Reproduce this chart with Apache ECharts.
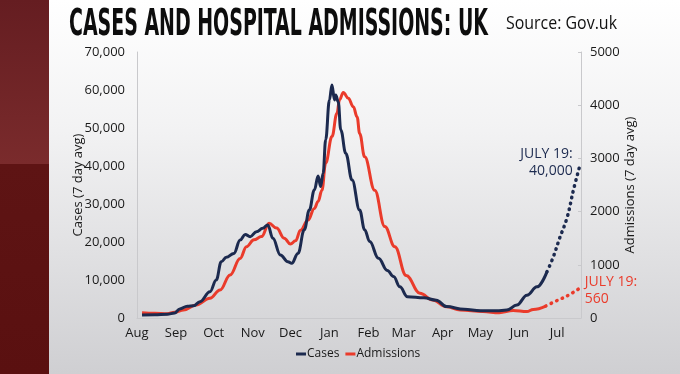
<!DOCTYPE html>
<html>
<head>
<meta charset="utf-8">
<script src="https://cdn.jsdelivr.net/npm/echarts@6/dist/echarts.min.js"></script>
<style>
html,body{margin:0;padding:0;background:#fff;}
#chart{width:680px;height:374px;}
</style>
</head>
<body>
<div id="chart"></div>
<script>
// ---- data ----
var titleText = 'CASES AND HOSPITAL ADMISSIONS: UK';
var sourceText = 'Source: Gov.uk';
var seriesNames = ['Cases', 'Admissions'];

var monthStarts = ['2020-08-01','2020-09-01','2020-10-01','2020-11-01','2020-12-01','2021-01-01',
                   '2021-02-01','2021-03-01','2021-04-01','2021-05-01','2021-06-01','2021-07-01'];
var monthLabels = ['Aug','Sep','Oct','Nov','Dec','Jan','Feb','Mar','Apr','May','Jun','Jul'];
var xStart = '2020-08-01';
var xEnd = '2021-07-20';

var casesTicks = ['0','10,000','20,000','30,000','40,000','50,000','60,000','70,000'];
var admissionsTicks = ['0','1000','2000','3000','4000','5000'];

var casesDates = ['2020-08-05','2020-08-15','2020-08-25','2020-08-31','2020-09-04','2020-09-10','2020-09-15',
  '2020-09-20','2020-09-28','2020-10-03','2020-10-07','2020-10-11','2020-10-17','2020-10-22','2020-10-26',
  '2020-10-30','2020-11-04','2020-11-09','2020-11-13','2020-11-17','2020-11-23','2020-11-29','2020-12-02',
  '2020-12-07','2020-12-12','2020-12-16','2020-12-20','2020-12-23','2020-12-25','2020-12-27','2020-12-29',
  '2021-01-01','2021-01-03','2021-01-05','2021-01-06','2021-01-08','2021-01-10','2021-01-14','2021-01-19',
  '2021-01-25','2021-01-29','2021-02-02','2021-02-09','2021-02-16','2021-02-21','2021-02-26','2021-03-04',
  '2021-03-17','2021-03-27','2021-04-04','2021-04-18','2021-05-01','2021-05-14','2021-05-22','2021-05-30',
  '2021-06-07','2021-06-15','2021-06-23'];
var casesValues = [800,850,1000,1300,2400,3100,3200,
  4300,6900,10000,14800,16000,17000,20500,22000,
  21400,22700,23600,24500,21000,16600,14800,14400,
  17000,23200,28400,33700,37400,34600,38100,46900,
  57400,61300,57400,58700,56900,49500,43300,36300,
  28400,23200,20100,15700,12500,10900,8200,5600,
  5300,4700,3000,2300,1900,1900,2100,3400,
  6000,8200,12200];

var casesProjDates = ['2021-06-23','2021-06-28','2021-07-03','2021-07-09','2021-07-14','2021-07-19'];
var casesProjValues = [12200,16100,21000,26500,33700,40000];

var admDates = ['2020-08-05','2020-08-15','2020-08-25','2020-08-31','2020-09-07','2020-09-17','2020-09-28',
  '2020-10-06','2020-10-14','2020-10-22','2020-10-27','2020-11-02','2020-11-08','2020-11-14','2020-11-20',
  '2020-11-26','2020-12-01','2020-12-05','2020-12-09','2020-12-15','2020-12-20','2020-12-23','2020-12-26',
  '2020-12-29','2021-01-03','2021-01-07','2021-01-09','2021-01-12','2021-01-16','2021-01-20','2021-01-23',
  '2021-01-25','2021-01-29','2021-02-06','2021-02-14','2021-02-22','2021-03-03','2021-03-14','2021-03-24',
  '2021-04-04','2021-04-15','2021-05-03','2021-05-16','2021-05-27','2021-06-07','2021-06-12','2021-06-22'];
var admValues = [100,90,80,110,150,245,370,
  525,810,1120,1340,1470,1530,1780,1690,
  1500,1390,1450,1650,1840,2060,2190,2400,
  2910,3410,3850,4100,4240,4130,3970,3780,
  3470,3030,2400,1720,1340,800,465,340,
  210,150,120,100,140,120,160,225];

var admProjDates = ['2021-06-22','2021-07-02','2021-07-09','2021-07-19'];
var admProjValues = [225,340,415,560];

var casesNote = 'JULY 19:\n40,000';
var admNote = 'JULY 19:\n560';

// ---- chart ----
var NAVY = '#1c2a4f';
var RED = '#ea3b2b';
var FONT = '"Open Sans", "Noto Sans", sans-serif';
var TITLE_FONT_FAMILY = '"DejaVu Sans Condensed", "Liberation Sans Narrow", "Liberation Sans", sans-serif';

function t(s) { return Date.parse(s); }
function zip(d, v) { return d.map(function (x, i) { return [t(x), v[i]]; }); }
var monthTs = monthStarts.map(t);

function fitScale(text, font, targetWidth) {
  var c = document.createElement('canvas').getContext('2d');
  c.font = font;
  var w = c.measureText(text).width;
  return w > 0 ? targetWidth / w : 1;
}

var titleScale = fitScale(titleText, 'bold 38px ' + TITLE_FONT_FAMILY, 419);
var sourceScale = fitScale(sourceText, '18px ' + FONT, 111);

var chart = echarts.init(document.getElementById('chart'), null, { renderer: 'canvas' });

var option = {
  animation: false,
  textStyle: { fontFamily: FONT },
  graphic: [
    { type: 'rect', z: -20, silent: true, shape: { x: 0, y: 0, width: 680, height: 374 },
      style: { fill: { type: 'linear', x: 0, y: 0, x2: 0, y2: 1,
        colorStops: [{ offset: 0, color: '#ffffff' }, { offset: 0.35, color: '#f2f2f3' }, { offset: 1, color: '#cfcfd2' }] } } },
    { type: 'rect', z: -19, silent: true, shape: { x: 0, y: 0, width: 49, height: 164 },
      style: { fill: { type: 'linear', x: 0, y: 0, x2: 0, y2: 1,
        colorStops: [{ offset: 0, color: '#651d21' }, { offset: 1, color: '#7a2b2c' }] } } },
    { type: 'rect', z: -19, silent: true, shape: { x: 0, y: 164, width: 49, height: 210 },
      style: { fill: { type: 'linear', x: 0, y: 0, x2: 0, y2: 1,
        colorStops: [{ offset: 0, color: '#5e1414' }, { offset: 1, color: '#5a1010' }] } } },
    { type: 'text', z: 10, x: 69, y: 25, scaleX: titleScale, scaleY: 1,
      style: { text: titleText, fontFamily: TITLE_FONT_FAMILY, fontWeight: 'bold', fontSize: 38,
        fill: '#0d0d0d', verticalAlign: 'middle', align: 'left' } },
    { type: 'text', z: 10, x: 506, y: 24, scaleX: sourceScale, scaleY: 1,
      style: { text: sourceText, fontFamily: FONT, fontSize: 18, fill: '#111',
        verticalAlign: 'middle', align: 'left' } }
  ],
  grid: { left: 137, right: 99, top: 52, bottom: 56, containLabel: false },
  legend: {
    data: seriesNames,
    left: 291, top: 343,
    icon: 'rect', itemWidth: 10, itemHeight: 3, itemGap: 6,
    textStyle: { fontSize: 12, color: '#1a1a1a', fontFamily: FONT, padding: [0, 0, 0, -4] }
  },
  xAxis: {
    type: 'value',
    min: t(xStart), max: t(xEnd),
    splitLine: { show: false },
    axisLine: { onZero: false, lineStyle: { color: '#c9c9cc', width: 1 } },
    axisTick: { show: false },
    axisLabel: {
      customValues: monthTs,
      color: '#1a1a1a', fontSize: 13, margin: 9, hideOverlap: false, showMinLabel: true, showMaxLabel: true,
      formatter: function (val) {
        var idx = monthTs.indexOf(val);
        if (idx < 0) {
          for (var i = 0; i < monthTs.length; i++) { if (Math.abs(monthTs[i] - val) < 43200000) { idx = i; break; } }
        }
        return idx >= 0 ? monthLabels[idx] : '';
      }
    }
  },
  yAxis: [
    {
      type: 'value', min: 0, max: 70000, interval: 10000, position: 'left',
      name: 'Cases (7 day avg)', nameLocation: 'middle', nameGap: 52, nameRotate: 90, nameMoveOverlap: false,
      nameTextStyle: { fontSize: 13, color: '#1a1a1a' },
      splitLine: { show: false },
      axisLine: { show: true, lineStyle: { color: '#c9c9cc' } },
      axisTick: { show: false },
      axisLabel: { color: '#1a1a1a', fontSize: 13, margin: 12,
        formatter: function (v) { return casesTicks[Math.round(v / 10000)]; } }
    },
    {
      type: 'value', min: 0, max: 5000, interval: 1000, position: 'right',
      name: 'Admissions (7 day avg)', nameLocation: 'middle', nameGap: 43, nameRotate: 90, nameMoveOverlap: false,
      nameTextStyle: { fontSize: 13, color: '#1a1a1a' },
      splitLine: { show: false },
      axisLine: { show: true, lineStyle: { color: '#c9c9cc' } },
      axisTick: { show: true, inside: true, length: 3, lineStyle: { color: '#c9c9cc' } },
      axisLabel: { color: '#1a1a1a', fontSize: 13, margin: 9,
        formatter: function (v) { return admissionsTicks[Math.round(v / 1000)]; } }
    }
  ],
  series: [
    {
      name: 'Admissions', type: 'line', yAxisIndex: 1, data: zip(admDates, admValues),
      showSymbol: false, symbol: 'none', smooth: 0.4, smoothMonotone: 'x',
      lineStyle: { color: RED, width: 3 }, itemStyle: { color: RED }, z: 3
    },
    {
      name: 'Cases', type: 'line', yAxisIndex: 0, data: zip(casesDates, casesValues),
      showSymbol: false, symbol: 'none', smooth: 0.4, smoothMonotone: 'x',
      lineStyle: { color: NAVY, width: 3 }, itemStyle: { color: NAVY }, z: 4
    },
    {
      name: 'Cases projection', type: 'line', yAxisIndex: 0, data: zip(casesProjDates, casesProjValues),
      showSymbol: false, symbol: 'none', smooth: 0.4,
      lineStyle: { color: NAVY, width: 3.5, type: [0.5, 5.5], cap: 'round' }, z: 4,
      markPoint: {
        symbol: 'circle', symbolSize: 0, silent: true,
        data: [{ coord: [t(casesProjDates[casesProjDates.length - 1]), casesProjValues[casesProjValues.length - 1]] }],
        label: { show: true, position: 'left', distance: 7, offset: [0, -3], formatter: casesNote,
          color: NAVY, fontSize: 14, lineHeight: 17, align: 'right', fontFamily: FONT }
      }
    },
    {
      name: 'Admissions projection', type: 'line', yAxisIndex: 1, data: zip(admProjDates, admProjValues),
      showSymbol: false, symbol: 'none', smooth: 0.4,
      lineStyle: { color: RED, width: 3.5, type: [0.5, 5.5], cap: 'round' }, z: 3,
      markPoint: {
        symbol: 'circle', symbolSize: 0, silent: true,
        data: [{ coord: [t(admProjDates[admProjDates.length - 1]), admProjValues[admProjValues.length - 1]] }],
        label: { show: true, position: 'right', distance: 5, offset: [0, 2], formatter: admNote,
          color: RED, fontSize: 14, lineHeight: 17, align: 'left', fontFamily: FONT }
      }
    }
  ]
};
chart.setOption(option);
</script>
</body>
</html>
